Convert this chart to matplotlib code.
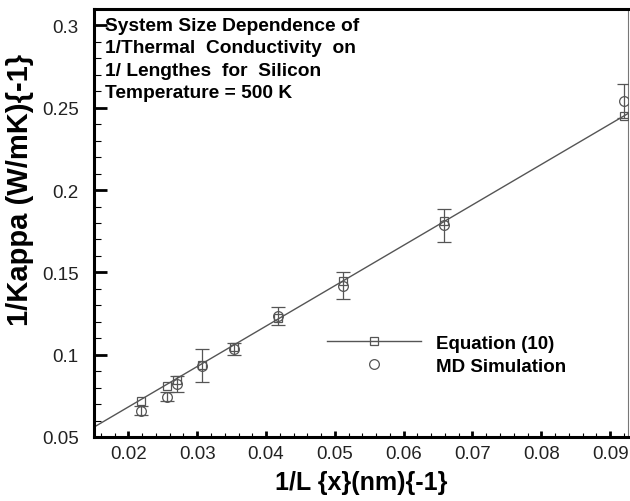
import matplotlib
matplotlib.use("Agg")
import matplotlib.pyplot as plt
from matplotlib.ticker import MultipleLocator, FixedLocator
from matplotlib.lines import Line2D

plt.rcParams['font.family'] = ['Liberation Sans', 'DejaVu Sans']

# Data
x_pts = [0.0219, 0.0256, 0.0271, 0.0307, 0.0354, 0.0418, 0.0512, 0.0658, 0.0920]
y_eq = [0.0721, 0.0812, 0.0845, 0.0938, 0.1049, 0.1220, 0.1445, 0.1810, 0.2451]
y_md = [0.0660, 0.0745, 0.0822, 0.0934, 0.1035, 0.1235, 0.1420, 0.1785, 0.2542]
y_err = [0.0027, 0.0029, 0.0046, 0.0098, 0.0036, 0.0055, 0.0081, 0.0098, 0.0105]
line_x = [0.0150, 0.0926]
line_y = [0.0560, 0.2465]

x_ticks = [0.02, 0.03, 0.04, 0.05, 0.06, 0.07, 0.08, 0.09]
x_ticklabels = ["0.02", "0.03", "0.04", "0.05", "0.06", "0.07", "0.08", "0.09"]
y_ticks = [0.05, 0.1, 0.15, 0.2, 0.25, 0.3]
y_ticklabels = ["0.05", "0.1", "0.15", "0.2", "0.25", "0.3"]

title_text = ("System Size Dependence of\n1/Thermal  Conductivity  on\n"
              "1/ Lengthes  for  Silicon\nTemperature = 500 K")

fig = plt.figure(figsize=(6.3, 5.02), dpi=100)
ax = fig.add_axes([94/630, 64/502, 534/630, 428/502])

gray = '#555555'
ax.plot(line_x, line_y, color=gray, lw=1.0, zorder=2)
ax.plot(x_pts, y_eq, linestyle='none', marker='s', markersize=6,
        markerfacecolor='none', markeredgecolor=gray, markeredgewidth=0.9, zorder=3)
ax.errorbar(x_pts, y_md, yerr=y_err, fmt='o', markersize=7,
            markerfacecolor='none', markeredgecolor=gray, markeredgewidth=0.9,
            ecolor=gray, elinewidth=0.9, capsize=5, capthick=0.9, zorder=3)

h1 = Line2D([], [], color=gray, lw=1.0, marker='s', markersize=6,
            markerfacecolor='none', markeredgecolor=gray, markeredgewidth=0.9)
h2 = Line2D([], [], color=gray, lw=0, marker='o', markersize=7,
            markerfacecolor='none', markeredgecolor=gray, markeredgewidth=0.9)
leg = ax.legend([h1, h2], ["Equation (10)", "MD Simulation"], loc='center left',
                bbox_to_anchor=(0.405, 0.192), frameon=False, numpoints=1,
                handlelength=5.0, handletextpad=0.8, labelspacing=0.3,
                prop={'weight': 'bold', 'size': 13.5})

ax.text(0.02, 0.982, title_text, transform=ax.transAxes, ha='left', va='top',
        fontsize=13.8, fontweight='bold', linespacing=1.42, color='black')

ax.set_xlim(0.015, 0.0926)
ax.set_ylim(0.05, 0.31)
ax.xaxis.set_major_locator(FixedLocator(x_ticks))
ax.set_xticklabels(x_ticklabels)
ax.yaxis.set_major_locator(FixedLocator(y_ticks))
ax.set_yticklabels(y_ticklabels)
ax.xaxis.set_minor_locator(MultipleLocator(0.002))
ax.yaxis.set_minor_locator(MultipleLocator(0.01))

ax.tick_params(axis='both', which='both', direction='in', top=False, right=False,
               labelsize=13.5, labelcolor='#222222')
ax.tick_params(axis='y', which='major', length=9, width=2, pad=11)
ax.tick_params(axis='y', which='minor', length=5, width=0.8)
ax.tick_params(axis='x', which='major', length=4, width=2, pad=6)
ax.tick_params(axis='x', which='minor', length=3, width=0.8)

for s in ['left', 'bottom', 'top']:
    ax.spines[s].set_linewidth(2.2)
ax.spines['right'].set_linewidth(0.8)
ax.spines['right'].set_color('#777777')

ax.set_xlabel("1/L {x}(nm){-1}", fontsize=18, fontweight='bold')
ax.xaxis.set_label_coords(0.5, -0.078)
ax.set_ylabel("1/Kappa (W/mK){-1}", fontsize=21, fontweight='bold')
ax.yaxis.set_label_coords(-0.112, 0.58)

fig.savefig("out.png", dpi=100)
